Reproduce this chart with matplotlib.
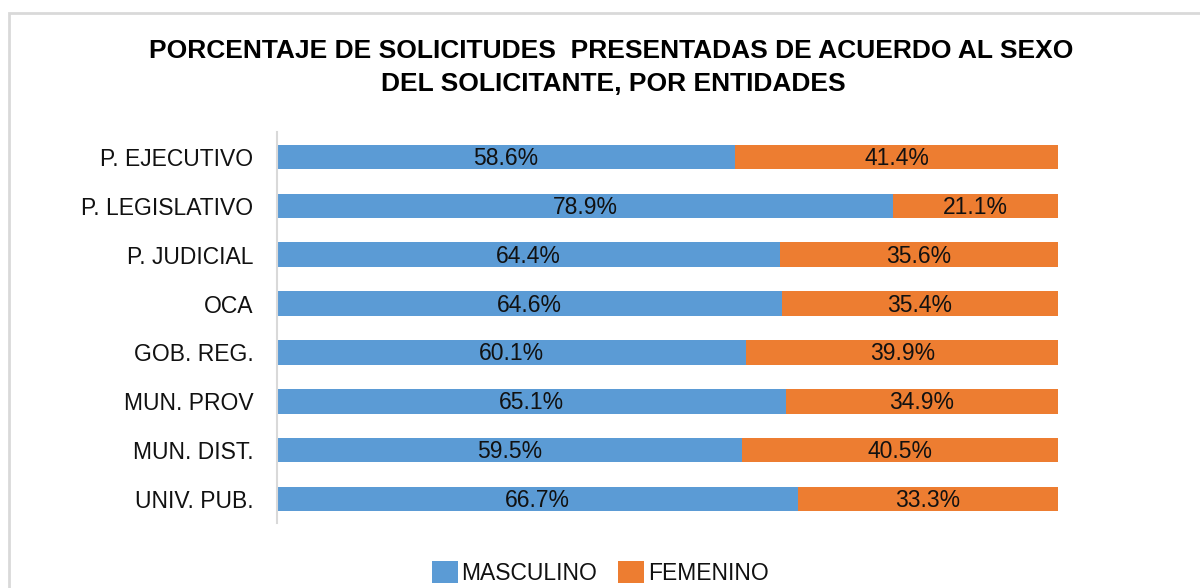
import matplotlib
matplotlib.use('Agg')
import matplotlib.pyplot as plt
from matplotlib.patches import Rectangle
import numpy as np

plt.rcParams['font.family'] = ['Liberation Sans', 'DejaVu Sans']

entidades = ['P. EJECUTIVO', 'P. LEGISLATIVO', 'P. JUDICIAL', 'OCA',
             'GOB. REG.', 'MUN. PROV', 'MUN. DIST.', 'UNIV. PUB.']
masculino = [58.6, 78.9, 64.4, 64.6, 60.1, 65.1, 59.5, 66.7]
femenino = [41.4, 21.1, 35.6, 35.4, 39.9, 34.9, 40.5, 33.3]

azul = '#5B9BD5'
naranja = '#ED7D31'
texto = '#111111'

fig = plt.figure(figsize=(12, 5.88), dpi=100)
ax = fig.add_axes([0.2308, 0.1097, 0.651, 0.665])

y = np.arange(len(entidades))
b1 = ax.barh(y, masculino, height=0.5, color=azul, label='MASCULINO')
b2 = ax.barh(y, femenino, left=masculino, height=0.5, color=naranja, label='FEMENINO')

for rects, vals in ((b1, masculino), (b2, femenino)):
    for r, v in zip(rects, vals):
        ax.text(r.get_x() + r.get_width() / 2, r.get_y() + r.get_height() / 2 + 0.03,
                f'{v:.1f}%', ha='center', va='center', fontsize=16.5, color=texto)

ax.set_xlim(0, 100)
ax.set_ylim(len(entidades) - 0.5, -0.5)
ax.set_yticks(y)
ax.set_yticklabels(entidades, fontsize=16.5, color=texto)
ax.tick_params(axis='y', length=0, pad=17)
ax.set_xticks([])
for s in ('top', 'right', 'bottom'):
    ax.spines[s].set_visible(False)
ax.spines['left'].set_color('#D9D9D9')
ax.spines['left'].set_linewidth(1.5)

fig.text(0.509, 0.913, 'PORCENTAJE DE SOLICITUDES  PRESENTADAS DE ACUERDO AL SEXO',
         ha='center', va='center', fontsize=19, fontweight='bold', color='black')
fig.text(0.511, 0.857, 'DEL SOLICITANTE, POR ENTIDADES',
         ha='center', va='center', fontsize=19, fontweight='bold', color='black')

# marco gris del gráfico
fig.patches.append(Rectangle((9 / 1200, -0.05), 1.2, 0.05 + (588 - 13) / 588,
                             transform=fig.transFigure, fill=False,
                             edgecolor='#D9D9D9', linewidth=2))

leg = fig.legend(handles=[b1, b2], loc='center', bbox_to_anchor=(0.5, 0.026), ncol=2,
                 frameon=False, fontsize=16.5, handlelength=1.15, handleheight=1.15,
                 handletextpad=0.15, columnspacing=0.9)
for t in leg.get_texts():
    t.set_color(texto)

fig.savefig('out.png', dpi=100, facecolor='white')
